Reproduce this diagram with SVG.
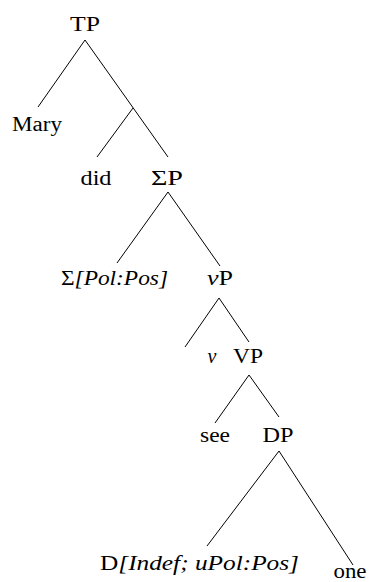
<svg xmlns="http://www.w3.org/2000/svg" width="371" height="582" viewBox="0 0 371 582">
<rect width="371" height="582" fill="#fff"/>
<g id="edges" stroke="#000" stroke-width="1">
<line x1="85" y1="40" x2="38" y2="107"/>
<line x1="85" y1="40" x2="168" y2="157"/>
<line x1="133" y1="108" x2="97" y2="157"/>
<line x1="168" y1="192" x2="117" y2="263"/>
<line x1="168" y1="192" x2="220" y2="266"/>
<line x1="219" y1="298" x2="185" y2="347"/>
<line x1="219" y1="298" x2="249" y2="342"/>
<line x1="249" y1="375" x2="215" y2="423"/>
<line x1="249" y1="375" x2="279" y2="417"/>
<line x1="279" y1="451" x2="207" y2="546"/>
<line x1="279" y1="451" x2="353" y2="565"/>
</g>
<g id="TP"><text x="85" y="31" style="font-family:'Times New Roman','Liberation Serif',serif;font-size:20px" text-anchor="middle" textLength="30" lengthAdjust="spacingAndGlyphs">TP</text></g>
<g id="Mary"><text x="37" y="131" style="font-family:'Times New Roman','Liberation Serif',serif;font-size:20px" text-anchor="middle" textLength="50" lengthAdjust="spacingAndGlyphs">Mary</text></g>
<g id="did"><text x="96" y="185" style="font-family:'Times New Roman','Liberation Serif',serif;font-size:20px" text-anchor="middle" textLength="31" lengthAdjust="spacingAndGlyphs">did</text></g>
<g id="SigmaP"><text x="167" y="185" style="font-family:'Times New Roman','Liberation Serif',serif;font-size:20px" text-anchor="middle" textLength="32" lengthAdjust="spacingAndGlyphs">ΣP</text></g>
<g id="Sigma"><text x="114.5" y="285" style="font-family:'Times New Roman','Liberation Serif',serif;font-size:20px" text-anchor="middle" textLength="107" lengthAdjust="spacingAndGlyphs">Σ<tspan font-style="italic">[Pol:Pos]</tspan></text></g>
<g id="vP"><text x="220" y="285" style="font-family:'Times New Roman','Liberation Serif',serif;font-size:20px" text-anchor="middle" textLength="26" lengthAdjust="spacingAndGlyphs"><tspan font-style="italic">v</tspan>P</text></g>
<g id="v"><text x="212" y="363" style="font-family:'Times New Roman','Liberation Serif',serif;font-size:20px;font-style:italic" text-anchor="middle">v</text></g>
<g id="VP"><text x="248" y="363" style="font-family:'Times New Roman','Liberation Serif',serif;font-size:20px" text-anchor="middle" textLength="30" lengthAdjust="spacingAndGlyphs">VP</text></g>
<g id="see"><text x="215" y="442" style="font-family:'Times New Roman','Liberation Serif',serif;font-size:20px" text-anchor="middle" textLength="30" lengthAdjust="spacingAndGlyphs">see</text></g>
<g id="DP"><text x="278" y="442" style="font-family:'Times New Roman','Liberation Serif',serif;font-size:20px" text-anchor="middle" textLength="31" lengthAdjust="spacingAndGlyphs">DP</text></g>
<g id="D"><text x="199.5" y="570" style="font-family:'Times New Roman','Liberation Serif',serif;font-size:20px" text-anchor="middle" textLength="199" lengthAdjust="spacingAndGlyphs">D<tspan font-style="italic">[Indef; uPol:Pos]</tspan></text></g>
<g id="one"><text x="350" y="578" style="font-family:'Times New Roman','Liberation Serif',serif;font-size:20px" text-anchor="middle" textLength="33" lengthAdjust="spacingAndGlyphs">one</text></g>
</svg>
